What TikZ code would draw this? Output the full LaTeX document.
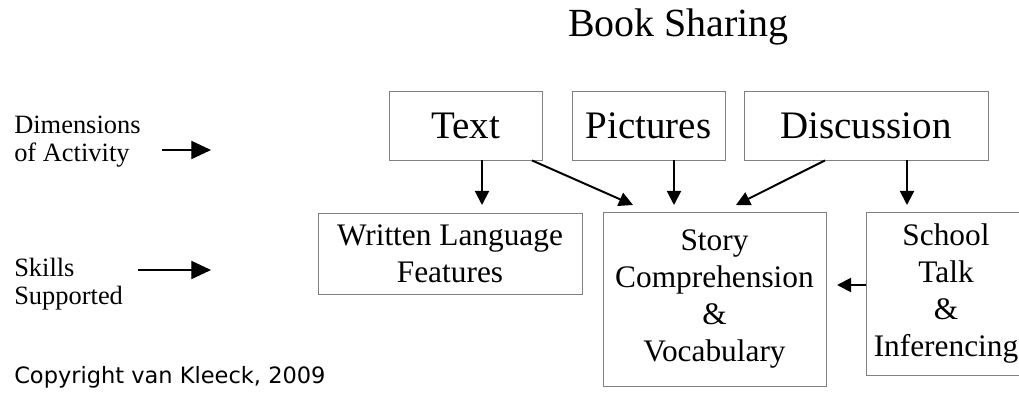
\documentclass[tikz,border=0pt]{standalone}
\usepackage{fontspec}
\setmainfont{Liberation Serif}
\newfontfamily\copyfont{DejaVu Sans}
\usetikzlibrary{arrows.meta,positioning}

\begin{document}
\begin{tikzpicture}[
  x=0.025cm, y=-0.025cm,
  dimbox/.style={draw=black!50, line width=0.6pt, inner sep=0pt, minimum height=1.725cm, align=center, font=\fontsize{27.7}{30}\selectfont},
  skillbox/.style={draw=black!50, line width=0.6pt, inner sep=0pt, align=center, font=\fontsize{22.3}{26.5}\selectfont},
  side/.style={align=left, inner sep=0pt, anchor=north west, font=\fontsize{18.8}{20}\selectfont},
  arr/.style={-{Triangle[length=10pt, width=10pt]}, line width=1.4pt},
  sidearr/.style={-{Triangle[length=14pt, width=13pt]}, line width=0.8pt}
]
\useasboundingbox (0,0) rectangle (1019,393);
\node[anchor=base, inner sep=0pt, font=\fontsize{28.4}{30}\selectfont] (title) at (678.5,37) {Book Sharing};
% dimensions of activity
\node[dimbox, minimum width=3.825cm] (text) at (465.5,125.5) {Text};
\node[dimbox, minimum width=3.825cm] (pict) at (648.5,125.5) {Pictures};
\node[dimbox, minimum width=6.1cm] (disc) at (866,125.5) {Discussion};
% skills supported
\node[skillbox, minimum width=6.6cm, minimum height=2.025cm] (writ) at (450,253.5) {Written Language\\Features};
\node[skillbox, minimum width=5.575cm, minimum height=4.35cm] (story) at (714.5,299) {Story\\Comprehension\\\&\\Vocabulary};
\node[skillbox, minimum width=4.0cm, minimum height=4.075cm] (school) at (946,293.5) {School\\Talk\\\&\\Inferencing};
% left labels
\node[side] (dimlbl) at (14,116) {Dimensions\\of Activity};
\node[side] (skilllbl) at (14,258) {Skills\\Supported};
\coordinate (d1) at (162,150);
\coordinate (d2) at (211,150);
\coordinate (s1) at (138,270);
\coordinate (s2) at (211,270);
\draw[sidearr] (d1) -- (d2);
\draw[sidearr] (s1) -- (s2);
% connectors
\draw[arr] (text.south -| 482,0) -- (482,205);
\draw[arr] (text.south -| 532,0) -- (633,205);
\draw[arr] (pict.south -| 674,0) -- (674,205);
\draw[arr] (disc.south -| 825,0) -- (736,205);
\draw[arr] (disc.south -| 907,0) -- (907,205);
\draw[arr] (school.west |- 0,285) -- (837,285);
\node[anchor=base west, inner sep=0pt, font=\copyfont\fontsize{16}{18}\selectfont] (copy) at (14,383) {Copyright van Kleeck, 2009};
\end{tikzpicture}
\end{document}
